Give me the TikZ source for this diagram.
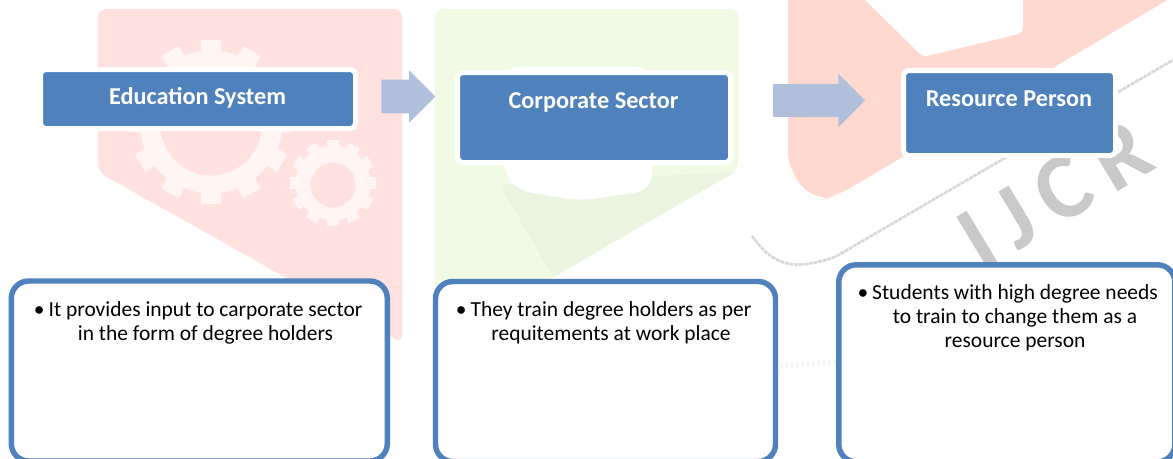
\documentclass[tikz,border=0pt]{standalone}
\usepackage{fontspec}
\setmainfont{Carlito}
\newfontfamily\wmfont[LetterSpace=17,BoldFont={Carlito Bold}]{Carlito}
\usetikzlibrary{shapes.arrows}
\definecolor{blu}{HTML}{4F81BD}
\definecolor{arw}{HTML}{B0C0DC}
\definecolor{pinkbg}{HTML}{FFE2E0}
\definecolor{pinkhi}{HTML}{FFF6F4}
\definecolor{pinkb2}{HTML}{FFD8D0}
\definecolor{greenbg}{HTML}{F1FBE4}
\definecolor{greendk}{HTML}{EAF4DF}
\definecolor{wm}{HTML}{C9C9C9}
\newcommand{\pxl}[1]{#1*0.75pt}
\newcommand{\hang}{\llap{\textbullet\hspace{3pt}}}
\tikzset{
 headbox/.style={draw=white,line width=3.75pt,fill=blu,rounded corners=3.75pt,outer sep=0pt,inner sep=0pt,anchor=north west},
 headtxt/.style={text=white,font=\bfseries\fontsize{18.2}{22}\selectfont,inner sep=0pt,anchor=base},
 cardbox/.style={draw=blu,line width=4.1pt,fill=white,rounded corners=13pt,outer sep=0pt,inner sep=0pt,anchor=north west},
 bodytxt/.style={font=\fontsize{16.1}{18}\selectfont,align=center,text=black,anchor=north,inner sep=0pt},
 flow/.style={single arrow,fill=arw,draw=none,inner xsep=0pt,anchor=center},
 gearpart/.style={fill=pinkhi},
}
\begin{document}
\begin{tikzpicture}[x=0.75pt,y=-0.75pt]
\useasboundingbox (0,0) rectangle (1173,458);
% faint watermark panels
\fill[pinkbg,rounded corners=6pt] (98,9) -- (402,9) -- (402,343) -- (98,172) -- cycle;
\foreach \a in {0,30,...,330}{
  \fill[gearpart,shift={(211,122)},rotate=\a] (-10,-82) rectangle (10,-60);
  \fill[gearpart,shift={(333,183)},rotate=\a] (-6,-43) rectangle (6,-30);
}
\fill[gearpart,even odd rule] (211,122) circle[radius=53.5pt] (211,125) circle[radius=38pt];
\fill[gearpart,even odd rule] (333,183) circle[radius=28pt] (333,185) circle[radius=17pt];
\fill[greenbg,rounded corners=6pt] (435,9) -- (738,9) -- (738,170) -- (435,346) -- cycle;
\fill[greendk] (500,185) -- (735,172) -- (553,277) -- cycle;
\fill[white,rounded corners=12pt] (503,67) -- (652,67) -- (652,190) -- (580,201) -- (515,190) -- (503,170) -- cycle;
\fill[pinkb2,rounded corners=14pt] (788,-30) -- (1218,-30) -- (835,197) -- (815,201) -- (788,170) -- cycle;
\fill[white,rounded corners=4pt] (860,-5) -- (923,57) -- (1023,33) -- (1023,-5) -- cycle;
\draw[wm,line width=2pt,opacity=.75,dash pattern=on 3pt off 0.6pt] (752,236) .. controls (775,268) and (795,270) .. (835,257) -- (1173,60);
\draw[wm,line width=4pt,opacity=.18,dash pattern=on 2pt off 2pt] (780,366) -- (836,362);
\node[text=wm,rotate=31,inner sep=0pt,font=\wmfont\bfseries\fontsize{70}{70}\selectfont] (mark) at (1055,194) {IJCR};
% block arrows
\node[flow,minimum height=\pxl{54},minimum width=\pxl{52},inner ysep=\pxl{16.5},single arrow head extend=\pxl{9.5}] (f1) at (400,96.5) {};
\node[flow,minimum height=\pxl{92},minimum width=\pxl{53},inner ysep=\pxl{16},single arrow head extend=\pxl{10.5}] (f2) at (811,100.5) {};
% top boxes
\node[headbox,minimum width=\pxl{315},minimum height=\pxl{59}] (a) at (40.5,69.5) {};
\node[headtxt] (at) at (197.5,104) {Education System};
\node[headbox,minimum width=\pxl{273},minimum height=\pxl{90}] (b) at (457.5,72.5) {};
\node[headtxt] (bt) at (593.5,108) {Corporate Sector};
\node[headbox,minimum width=\pxl{212},minimum height=\pxl{85}] (c) at (903.5,70.5) {};
\node[headtxt] (ct) at (1009,106) {Resource Person};
% lower cards
\node[cardbox,minimum width=\pxl{376},minimum height=\pxl{180}] (d) at (11.3,281) {};
\node[bodytxt] (dt) at (205.5,301.5) {\hang It provides input to carporate sector\\in the form of degree holders};
\node[cardbox,minimum width=\pxl{340},minimum height=\pxl{180}] (e) at (435.5,281.5) {};
\node[bodytxt] (et) at (611,301.5) {\hang They train degree holders as per\\requitements at work place};
\node[cardbox,minimum width=\pxl{336},minimum height=\pxl{197}] (g) at (838.8,264.8) {};
\node[bodytxt] (gt) at (1015,284.5) {\hang Students with high degree needs\\to train to change them as a\\resource person};
\end{tikzpicture}
\end{document}
